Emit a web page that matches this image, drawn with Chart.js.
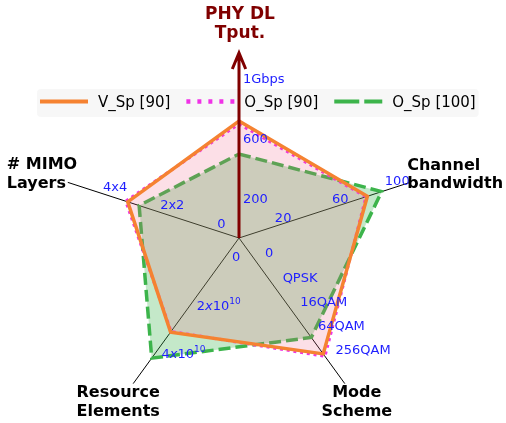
<!DOCTYPE html>
<html>
<head>
<meta charset="utf-8">
<script src="https://cdn.jsdelivr.net/npm/chart.js@4.4.0/dist/chart.umd.min.js"></script>
<style>
  html, body { margin: 0; padding: 0; background: #fff; }
  canvas { display: block; }
</style>
</head>
<body>
<canvas id="radarChart" width="506" height="423"></canvas>
<script>
// axes (clockwise from top) and the value reached at the outer end of each axis
const categories = [['PHY DL', 'Tput.'], ['Channel', 'bandwidth'], ['Mode', 'Scheme'], ['Resource', 'Elements'], ['# MIMO', 'Layers']];
const axisMax = [1200, 120, 12, 6e10, 6];

// series values: Mbps, MHz, bits/symbol, resource elements, layers
const vSp90  = [780, 90, 9.55, 3.88e10, 3.9];
const oSp90  = [760, 89, 9.75, 3.85e10, 3.97];
const oSp100 = [560, 100, 8.2, 4.95e10, 3.5];

// per-axis tick values and their labels
const axisTicks = [[200, 600, 1000], [20, 60, 100], [0, 2, 4, 6, 8], [0, 2e10, 4e10], [0, 2, 4]];
const axisTickText = [
  ['200', '600', '1Gbps'],
  ['20', '60', '100'],
  ['0', 'QPSK', '16QAM', '64QAM', '256QAM'],
  ['0', '2x10^10', '4x10^10'],
  ['0', '2x2', '4x4']
];

var FONT = "'DejaVu Sans', sans-serif";
var MAROON = '#800000';
var TICK_BLUE = 'rgb(30,30,255)';

// where tick labels / titles sit relative to their point on the axis
var tickStyle = [
  { align: 'left',   dx: 4,     dy: -8 },
  { align: 'center', dx: 15.6,  dy: -10.4 },
  { align: 'left',   dx: 26,    dy: 16 },
  { align: 'left',   dx: -7,    dy: 20 },
  { align: 'left',   dx: -21.8, dy: -13.7 }
];
var titleStyle = [
  { align: 'center', dx: 1,   dy: -43 },
  { align: 'left',   dx: -3,  dy: -16.7 },
  { align: 'center', dx: 12,  dy: 9.5 },
  { align: 'center', dx: -15, dy: 9.7 },
  { align: 'left',   dx: -61, dy: -17.4 }
];
var legendLook = [
  { dash: [], width: 4 },
  { dash: [4, 7], width: 4.5 },
  { dash: [25, 5], width: 4 }
];

function norm(values) {
  return values.map(function (v, i) { return v / axisMax[i]; });
}

// "2x10^10" -> 2, italic x, 10, superscript 10
function drawTickText(ctx, text, x, y) {
  if (text.indexOf('^') < 0) {
    ctx.fillText(text, x, y);
    return;
  }
  var parts = text.split('^');
  var base = parts[0];
  var m = base.indexOf('x');
  var pieces = [
    { t: base.slice(0, m), f: '13px ' + FONT, dy: 0 },
    { t: 'x', f: 'italic 13px ' + FONT, dy: 0 },
    { t: base.slice(m + 1), f: '13px ' + FONT, dy: 0 },
    { t: parts[1], f: '9px ' + FONT, dy: -5 }
  ];
  var cx = x;
  pieces.forEach(function (p) {
    ctx.font = p.f;
    ctx.fillText(p.t, cx, y + p.dy);
    cx += ctx.measureText(p.t).width;
  });
  ctx.font = '13px ' + FONT;
}

var overlay = {
  id: 'overlay',
  afterDatasetsDraw: function (chart) {
    var ctx = chart.ctx;
    var r = chart.scales.r;
    var pos = function (i, v) { return r.getPointPositionForValue(i, v / axisMax[i]); };
    ctx.save();

    // legend box
    var lx = 37, ly = 89, lh = 28;
    ctx.font = '15px ' + FONT;
    var x = lx + 3;
    var items = chart.data.datasets.map(function (ds, k) {
      var it = { ds: ds, look: legendLook[k], x0: x, w: ctx.measureText(ds.label).width };
      x += 48 + 10 + it.w + 16;
      return it;
    });
    var lw = x - 16 + 3 - lx;
    ctx.fillStyle = 'rgba(247,247,247,0.95)';
    ctx.beginPath();
    ctx.roundRect(lx, ly, lw, lh, 4);
    ctx.fill();
    items.forEach(function (it) {
      ctx.strokeStyle = it.ds.borderColor;
      ctx.lineWidth = it.look.width;
      ctx.lineCap = 'butt';
      ctx.setLineDash(it.look.dash);
      ctx.beginPath();
      ctx.moveTo(it.x0, ly + 12.5);
      ctx.lineTo(it.x0 + 48, ly + 12.5);
      ctx.stroke();
      ctx.setLineDash([]);
      ctx.fillStyle = '#000';
      ctx.textAlign = 'left';
      ctx.textBaseline = 'middle';
      ctx.fillText(it.ds.label, it.x0 + 58, ly + 14);
    });

    // throughput arrow on the first axis
    var c = { x: r.xCenter, y: r.yCenter };
    var tip = pos(0, axisMax[0] * 185 / 180);
    ctx.strokeStyle = MAROON;
    ctx.lineWidth = 3;
    ctx.lineJoin = 'miter';
    ctx.beginPath();
    ctx.moveTo(c.x, c.y);
    ctx.lineTo(tip.x, tip.y);
    ctx.moveTo(tip.x - 6.7, tip.y + 16);
    ctx.lineTo(tip.x, tip.y);
    ctx.lineTo(tip.x + 6.7, tip.y + 16);
    ctx.stroke();

    // per-axis tick labels
    ctx.fillStyle = TICK_BLUE;
    ctx.textBaseline = 'middle';
    axisTicks.forEach(function (ticks, i) {
      var st = tickStyle[i];
      ctx.textAlign = st.align;
      ticks.forEach(function (t, k) {
        var p = pos(i, t);
        ctx.font = '13px ' + FONT;
        drawTickText(ctx, axisTickText[i][k], p.x + st.dx, p.y + st.dy);
      });
    });

    // axis titles
    ctx.font = 'bold 16px ' + FONT;
    categories.forEach(function (lines, i) {
      var st = titleStyle[i];
      var p = pos(i, axisMax[i]);
      ctx.fillStyle = i === 0 ? MAROON : '#000';
      ctx.font = (i === 0 ? 'bold 17px ' : 'bold 16px ') + FONT;
      ctx.textAlign = st.align;
      lines.forEach(function (line, k) {
        ctx.fillText(line, p.x + st.dx, p.y + st.dy + k * 18.4);
      });
    });
    ctx.restore();
  }
};

var ctx = document.getElementById('radarChart');
new Chart(ctx, {
  type: 'radar',
  data: {
    labels: categories,
    datasets: [{
      label: 'V_Sp [90]',
      data: norm(vSp90),
      borderColor: '#f58231',
      backgroundColor: 'rgba(245,130,49,0.1)',
      borderWidth: 3.5,
      fill: true
    }, {
      label: 'O_Sp [90]',
      data: norm(oSp90),
      borderColor: '#f032e6',
      backgroundColor: 'rgba(240,50,230,0.1)',
      borderWidth: 3,
      borderDash: [3, 3.8],
      fill: true
    }, {
      label: 'O_Sp [100]',
      data: norm(oSp100),
      borderColor: '#3cb44b',
      backgroundColor: 'rgba(60,180,75,0.3)',
      borderWidth: 3.5,
      borderDash: [12, 5],
      fill: true
    }]
  },
  options: {
    responsive: false,
    animation: false,
    devicePixelRatio: 1,
    layout: { padding: { left: 59, right: 87, top: 58, bottom: 5 } },
    elements: {
      point: { radius: 0, hoverRadius: 0 },
      line: { tension: 0, borderJoinStyle: 'miter', borderCapStyle: 'butt' }
    },
    scales: {
      r: {
        min: 0,
        max: 1,
        startAngle: 0,
        ticks: { display: false },
        grid: { display: false },
        angleLines: { display: true, color: '#000', lineWidth: 1 },
        pointLabels: { display: false }
      }
    },
    plugins: {
      legend: { display: false },
      title: { display: false },
      tooltip: { enabled: false }
    }
  },
  plugins: [overlay]
});
</script>
</body>
</html>
